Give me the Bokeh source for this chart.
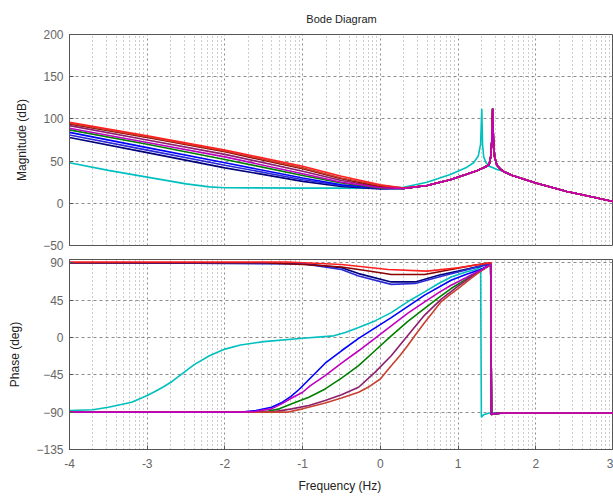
from bokeh.plotting import figure
from bokeh.layouts import column
from bokeh.models import FixedTicker, Range1d
from bokeh.embed import file_html
from bokeh.resources import INLINE
import math

# ---------------- axes ----------------
x_ticks = [-4, -3, -2, -1, 0, 1, 2, 3]
x_tick_labels = ["-4", "-3", "-2", "-1", "0", "1", "2", "3"]
mag_ticks = [-50, 0, 50, 100, 150, 200]
phase_ticks = [-135, -90, -45, 0, 45, 90]
minor_mult = [2, 3, 4, 5, 6, 7, 8, 9]

# ---------------- magnitude (dB) ----------------
mag_left_x = [-4, -3, -2, -1, -0.5, 0, 0.3]
mag_red = [96, 80, 63, 44, 32, 22, 18]
mag_brown = [95, 79, 62, 42, 30, 21, 18]
mag_dred = [94, 78, 61, 41, 29, 20, 17.5]
mag_purple = [92, 75, 58, 38, 27, 19, 17.5]
mag_magenta = [89, 72, 55, 35, 25, 18.5, 17.5]
mag_green = [87, 70, 52, 33, 24, 18, 17.5]
mag_blue = [84, 66, 48, 30, 22, 18, 17.5]
mag_blue2 = [81, 63, 45, 28, 21, 17.5, 17.5]
mag_navy = [78, 60, 42, 26, 20, 17, 17.5]

mag_tail_x = [0.6, 0.9, 1.1, 1.25, 1.35, 1.40, 1.42, 1.435, 1.445, 1.455, 1.47,
              1.5, 1.55, 1.6, 1.7, 1.8, 2.0, 2.4, 2.7, 3.0]
mag_tail = [21, 28, 34, 39, 43, 46, 55, 75, 112, 75, 55,
            45, 40, 37, 33, 30, 24, 14, 8, 2]

mag_cyan_x = [-4, -3.5, -3, -2.5, -2.2, -2, -1, 0, 0.3, 0.6, 0.9, 1.1, 1.2, 1.26,
              1.29, 1.305, 1.315, 1.33, 1.36, 1.40, 1.45, 1.5, 1.55, 1.6, 1.7,
              1.8, 2.0, 2.4, 2.7, 3.0]
mag_cyan = [48, 39, 31, 23, 19.5, 18.5, 18, 18, 19, 25, 34, 42, 48, 56,
            70, 112, 70, 55, 48, 44, 42, 40, 39, 37, 33,
            30, 24, 14, 8, 2]

# ---------------- phase (deg) ----------------
ph_cyan_x = [-4, -3.7, -3.5, -3.35, -3.2, -3.0, -2.9, -2.8, -2.68, -2.57, -2.4,
             -2.2, -2.0, -1.8, -1.5, -1.0, -0.6, -0.45, -0.28, -0.07, 0.14, 0.35,
             0.57, 0.75, 0.91, 1.1, 1.23, 1.29, 1.30, 1.33, 1.4, 3.0]
ph_cyan = [-88, -87, -84, -81, -78, -70, -65, -60, -53, -45, -33,
           -22, -14, -9, -5, -1, 2, 6, 12, 20, 30, 43,
           55, 65, 73, 79, 82, 85, -96, -93, -91, -91]

ph_blue_x = [-4, -1.9, -1.75, -1.6, -1.4, -1.26, -1.15, -1.05, -0.88, -0.71, -0.5,
             -0.28, 0.14, 0.57, 0.91, 1.1, 1.29, 1.42, 1.43, 1.45, 1.6, 3.0]
ph_blue = [-90, -90, -89.5, -88, -84, -78, -71, -63, -47, -31, -16,
           -1, 24, 51, 69, 76, 82, 88, -93, -92, -91, -91]

ph_magenta_x = [-4, -1.8, -1.6, -1.4, -1.27, -1.14, -1.0, -0.9, -0.71, -0.5, -0.28,
                -0.07, 0.14, 0.35, 0.57, 0.75, 0.91, 1.1, 1.2, 1.29, 1.42, 1.43,
                1.45, 1.6, 3.0]
ph_magenta = [-90, -90, -89, -86, -80, -73, -66, -58, -46, -31, -16,
              -1, 14, 29, 43, 54, 63, 72, 77, 81, 88, -93,
              -92, -91, -91]

ph_green_x = [-4, -1.6, -1.45, -1.3, -1.14, -0.92, -0.71, -0.5, -0.28, -0.07, 0.14,
              0.35, 0.57, 0.75, 0.91, 1.1, 1.2, 1.29, 1.42, 1.43, 1.45, 1.6, 3.0]
ph_green = [-90, -90, -89, -86, -80, -72, -62, -49, -34, -16, 2,
            19, 35, 48, 59, 70, 76, 80, 88, -93, -92, -91, -91]

ph_purple_x = [-4, -1.4, -1.14, -0.92, -0.71, -0.5, -0.28, -0.07, 0.14, 0.35, 0.57,
               0.78, 1.0, 1.15, 1.29, 1.42, 1.43, 1.45, 1.6, 3.0]
ph_purple = [-90, -90, -86, -82, -76, -69, -60, -42, -22, 2, 27,
             46, 62, 72, 80, 88, -93, -92, -91, -91]

ph_brown_x = [-4, -1.2, -1.0, -0.71, -0.5, -0.28, -0.14, 0.0, 0.07, 0.14, 0.25,
              0.35, 0.45, 0.57, 0.68, 0.78, 0.9, 1.0, 1.15, 1.29, 1.42, 1.43,
              1.45, 1.6, 3.0]
ph_brown = [-90, -90, -86, -79, -73, -66, -59, -50, -42, -34, -22,
            -10, 3, 18, 31, 43, 52, 59, 70, 80, 88, -93,
            -92, -91, -91]

ph_dred_x = [-4, -1.5, -1.0, -0.5, -0.28, 0.0, 0.14, 0.57, 0.91, 1.2, 1.42, 1.43,
             1.45, 1.6, 3.0]
ph_dred = [90, 90, 88, 85, 82, 78, 76, 76, 82, 87, 90, -93,
           -92, -91, -91]

ph_red_x = [-4, -1.2, -0.5, 0.1, 0.6, 1.0, 1.42, 1.43, 1.45, 1.6, 3.0]
ph_red = [91, 91, 88, 82, 80, 84, 90, -93, -92, -91, -91]

ph_blue2_x = [-4, -1.0, -0.5, -0.28, 0.14, 0.45, 0.75, 1.0, 1.29, 1.42, 1.43,
              1.45, 1.6, 3.0]
ph_blue2 = [90, 89, 82, 74, 64, 65, 73, 79, 86, 89, -93, -92, -91, -91]

ph_navy_x = [-4, -1.0, -0.5, -0.28, 0.14, 0.45, 0.75, 1.0, 1.29, 1.42, 1.43,
             1.45, 1.6, 3.0]
ph_navy = [90, 89, 84, 77, 67, 67, 75, 80, 86, 89, -93, -92, -91, -91]

colors = {
    "cyan": "#00BFBF", "blue": "#0000FF", "magenta": "#BF00BF",
    "green": "#008000", "purple": "#8E1E6E", "brown": "#C8402E",
    "dred": "#8B0000", "red": "#FF2020", "blue2": "#2A2AD8", "navy": "#00007A",
}

FONT = "Liberation Sans"

minor_x = [n + math.log10(k) for n in range(-4, 3) for k in minor_mult]


def style(p, yt):
    p.outline_line_color = "#555555"
    p.outline_line_width = 1
    p.background_fill_color = "white"
    p.border_fill_color = "white"
    for ax in p.axis:
        ax.axis_line_color = "#555555"
        ax.major_tick_in = 4
        ax.major_tick_out = 0
        ax.major_tick_line_color = "#555555"
        ax.minor_tick_line_color = None
        ax.major_label_text_font = FONT
        ax.major_label_text_font_size = "12px"
        ax.major_label_text_color = "#666666"
        ax.axis_label_text_font = FONT
        ax.axis_label_text_font_style = "normal"
        ax.axis_label_text_font_size = "12px"
        ax.axis_label_text_color = "#222222"
    p.xaxis.ticker = FixedTicker(ticks=x_ticks)
    p.xaxis.major_label_overrides = {t: l for t, l in zip(x_ticks, x_tick_labels)}
    p.yaxis.ticker = FixedTicker(ticks=yt)
    p.yaxis.major_label_standoff = 6
    p.yaxis.axis_label_standoff = 11
    p.xgrid.ticker = FixedTicker(ticks=x_ticks, minor_ticks=minor_x)
    p.ygrid.ticker = FixedTicker(ticks=yt)
    p.xgrid.grid_line_color = "#8c8c8c"
    p.xgrid.grid_line_dash = "2 3"
    p.xgrid.minor_grid_line_color = "#9a9a9a"
    p.xgrid.minor_grid_line_dash = "1 3"
    p.ygrid.grid_line_color = "#8c8c8c"
    p.ygrid.grid_line_dash = "3 3"


p1 = figure(width=613, height=254, output_backend="svg", toolbar_location=None,
            x_range=Range1d(-4, 3), y_range=Range1d(-50, 200),
            min_border_left=69, min_border_right=0, min_border_top=32,
            min_border_bottom=9, title="Bode Diagram")
p1.title.align = "center"
p1.title.text_font = FONT
p1.title.text_font_size = "11px"
p1.title.text_font_style = "normal"
p1.title.text_color = "#222222"
p1.title.standoff = 20
style(p1, mag_ticks)
p1.xaxis.visible = False
p1.yaxis.axis_label = "Magnitude (dB)"

p1.line(mag_cyan_x, mag_cyan, line_color=colors["cyan"], line_width=1.6)
mag_series = [("navy", mag_navy), ("blue2", mag_blue2), ("blue", mag_blue),
              ("green", mag_green), ("purple", mag_purple), ("dred", mag_dred),
              ("brown", mag_brown), ("red", mag_red), ("magenta", mag_magenta)]
for name, left in mag_series:
    p1.line(mag_left_x + mag_tail_x, left + mag_tail, line_color=colors[name],
            line_width=1.6)

p2 = figure(width=613, height=250, output_backend="svg", toolbar_location=None,
            x_range=p1.x_range, y_range=Range1d(-135, 94),
            min_border_left=69, min_border_right=0, min_border_top=5,
            min_border_bottom=55)
style(p2, phase_ticks)
p2.yaxis.axis_label = "Phase (deg)"
p2.xaxis.axis_label = "Frequency  (Hz)"
p2.xaxis.major_label_standoff = 9
p2.xaxis.axis_label_standoff = 8

ph_series = [("cyan", ph_cyan_x, ph_cyan),
             ("navy", ph_navy_x, ph_navy), ("blue2", ph_blue2_x, ph_blue2),
             ("dred", ph_dred_x, ph_dred), ("red", ph_red_x, ph_red),
             ("blue", ph_blue_x, ph_blue), ("green", ph_green_x, ph_green),
             ("purple", ph_purple_x, ph_purple), ("brown", ph_brown_x, ph_brown),
             ("magenta", ph_magenta_x, ph_magenta)]
for name, xs, ys in ph_series:
    p2.line(xs, ys, line_color=colors[name], line_width=1.6)

layout = column(p1, p2, spacing=0)
open("out.html", "w").write(file_html(layout, INLINE))
